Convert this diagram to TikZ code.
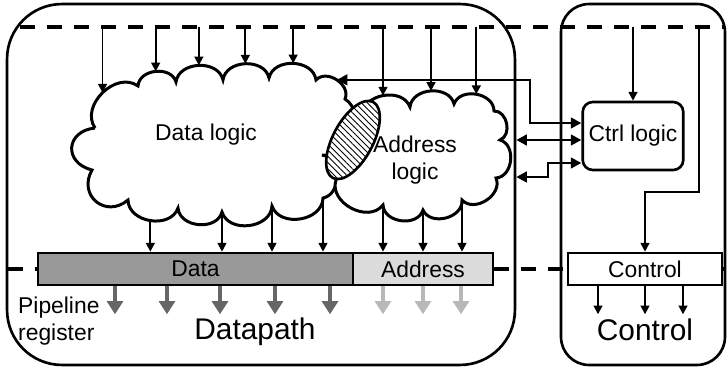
\documentclass[tikz,border=0pt]{standalone}
\usepackage{fontspec}
\setsansfont{Liberation Sans}
\usetikzlibrary{arrows.meta,patterns.meta}

\definecolor{regdark}{gray}{0.6}
\definecolor{reglight}{gray}{0.86}
\definecolor{outdark}{gray}{0.4}
\definecolor{outlight}{gray}{0.72}

\begin{document}
\begin{tikzpicture}[
  x=0.02cm, y=0.02cm,
  font=\sffamily\fontsize{13}{15}\selectfont,
  >={Triangle[length=5pt,width=5pt]},
  frame/.style={draw, line width=1.5pt},
  bus/.style={line width=2.1pt, dash pattern=on 0.3cm off 0.24cm},
  sig/.style={->, line width=1.1pt},
  link/.style={{Triangle[length=6pt,width=6pt]}-{Triangle[length=6pt,width=6pt]}, line width=1.5pt},
  cloudline/.style={draw, fill=white, line width=1.7pt},
  puff/.style={bend left=80, looseness=1.15},
  reg/.style={draw, line width=1.5pt, minimum height=0.64cm, inner sep=0pt},
  outarrow/.style={-{Triangle[length=7.5pt,width=9pt]}, line width=2.8pt},
  biglabel/.style={font=\sffamily\fontsize{17}{20}\selectfont}
]

\useasboundingbox (0,0) rectangle (727,369);

% pipeline register bus, behind the registers
\coordinate (bl) at (8,100);
\coordinate (br) at (727,100);
\draw[bus] (bl) -- (br);

% datapath and control frames
\node[frame, rounded corners=1.1cm, minimum width=10.16cm, minimum height=7.22cm] (dp) at (261,184.5) {};
\node[frame, rounded corners=0.56cm, minimum width=3.28cm, minimum height=7.22cm] (cp) at (643,184.5) {};

% incoming bus
\coordinate (tl) at (20,342);
\coordinate (tr) at (725,342);
\draw[bus] (tl) -- (tr);

% data logic cloud
\draw[cloudline] (95,241)
  to[puff] coordinate[midway] (m1) (138,283)
  to[puff] coordinate[midway] (m2) (176,287)
  to[puff] coordinate[midway] (m3) (223,289)
  to[puff] coordinate[midway] (m4) (269,291)
  to[puff] coordinate[midway] (m5) (316,289)
  to[puff] coordinate[midway] (mA) (345,270)
  to[puff] (322,214)
  to[puff] (323,171) coordinate (d8)
  to[puff] (272,163) coordinate (d9)
  to[puff] (222,157) coordinate (d10)
  to[puff] (178,161)
  to[puff] coordinate[midway] (m11) (128,169)
  to[puff, looseness=1.6] (92,199)
  to[puff, looseness=1.8] (95,241);

% address logic cloud
\draw[cloudline] (362,253)
  to[puff] coordinate[midway] (n1) (410,262)
  to[puff] coordinate[midway] (n2) (454,265)
  to[puff] coordinate[midway] (n3) (494,258)
  to[puff] (500,229)
  to[puff] (496,191)
  to[puff] (462,169) coordinate (a6)
  to[puff] (423,159) coordinate (a7)
  to[puff] (383,164) coordinate (a8)
  to[puff] (336,189)
  to[bend left=20] (362,253);

% shared part
\draw[line width=1.5pt, preaction={fill=white},
  pattern={Lines[angle=-45,distance=2.5pt,line width=0.5pt]},
  rotate around={62:(353,229)}] (353,229) ellipse [x radius=43, y radius=20];

\node (dlab) at (206,234) {Data logic};
\node[align=center] (alab) at (415,209) {Address\\logic};

\node[draw, line width=1.5pt, rounded corners=0.2cm, minimum width=2cm, minimum height=1.36cm] (ctrl) at (633,233) {Ctrl logic};

% pipeline registers
\node[reg, fill=regdark, minimum width=6.3cm] (datareg) at (195.5,100) {Data};
\node[reg, fill=reglight, minimum width=2.8cm] (addrreg) at (423,100) {Address};
\node[reg, fill=white, minimum width=3.08cm] (ctrlreg) at (645,100) {Control};

% inputs from the bus
\foreach \m in {m1,m2,m3,m4,m5,n1,n2,n3}
  \draw[sig] (\m |- tl) -- (\m);
\draw[sig] (ctrl.north |- tl) -- (ctrl.north);
\coordinate (cs) at (699,342);
\draw[sig] (cs) -- ++(0,-165) -| (ctrlreg.north);

% logic to registers
\foreach \m in {m11,d10,d9,d8}
  \draw[sig] (\m) -- (\m |- datareg.north);
\foreach \m in {a8,a7,a6}
  \draw[sig] (\m) -- (\m |- addrreg.north);

% register outputs
\foreach \x in {115,167,220,275,330} {
  \coordinate (o) at (\x,0);
  \draw[outarrow, outdark] (datareg.south -| o) -- ++(0,-28);
}
\foreach \x in {383,423,461} {
  \coordinate (o) at (\x,0);
  \draw[outarrow, outlight] (addrreg.south -| o) -- ++(0,-28);
}
\foreach \x in {598,645,683} {
  \coordinate (o) at (\x,0);
  \draw[sig] (ctrlreg.south -| o) -- ++(0,-28);
}

% datapath <-> control
\coordinate (jA) at (530,246);
\draw[link] (mA) -| (jA) -- (jA -| ctrl.west);
\coordinate (jB) at (0,229);
\draw[link] (dp.east |- jB) -- (ctrl.west |- jB);
\coordinate (jC) at (548,192);
\coordinate (jC2) at (548,206);
\draw[link] (dp.east |- jC) -- (jC) -- (jC2) -- (jC2 -| ctrl.west);

\node[biglabel] (dplab) at (255,37) {Datapath};
\node[biglabel] (cplab) at (645,39) {Control};
\node[align=left, anchor=west] (plab) at (12,48) {Pipeline\\register};

\end{tikzpicture}
\end{document}
